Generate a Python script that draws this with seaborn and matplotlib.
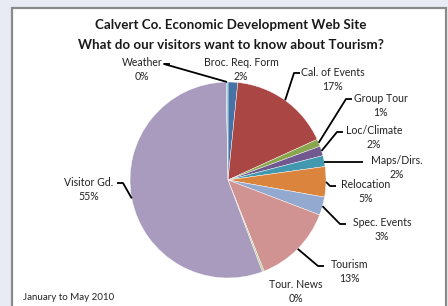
import numpy as np
import matplotlib
matplotlib.use("Agg")
import matplotlib.pyplot as plt
import seaborn as sns
from matplotlib.patches import Rectangle

sns.set_theme(style="white")
plt.rcParams['font.family'] = ['Lato', 'DejaVu Sans']

# ---- data ----
categories = ["Broc. Req. Form", "Cal. of Events", "Group Tour", "Loc/Climate",
              "Maps/Dirs.", "Relocation", "Spec. Events", "Tourism",
              "Tour. News", "Visitor Gd.", "Weather"]
values = [1.6, 16.6, 1.2, 1.6, 1.8, 5.0, 3.0, 13.2, 0.3, 55.4, 0.3]
colors = ["#4572A7", "#AA4643", "#89A54E", "#71588F", "#4198AF", "#DB843D",
          "#93A9CF", "#D19392", "#B9CD96", "#A99BBD", "#92C5D8"]
title_lines = ["Calvert Co. Economic Development Web Site",
               "What do our visitors want to know about Tourism?"]
footnote = "January to May 2010"

# ---- layout (pixel coordinates, image y downward) ----
W, H = 448, 306
cx, cy, R = 228, 180, 98
label_pos = {
    "Broc. Req. Form": (241, 62),
    "Cal. of Events": (333, 72),
    "Group Tour": (381, 98),
    "Loc/Climate": (374, 131),
    "Maps/Dirs.": (397, 160),
    "Relocation": (366, 184),
    "Spec. Events": (382, 222),
    "Tourism": (350, 264),
    "Tour. News": (296, 285),
    "Visitor Gd.": (89, 182),
    "Weather": (142, 62),
}
leader_anchor = {
    "Cal. of Events": (300, 73),
    "Group Tour": (352, 99),
    "Loc/Climate": (343, 132),
    "Maps/Dirs.": (363, 162),
    "Relocation": (336, 186),
    "Spec. Events": (346, 224),
    "Tourism": (324, 266),
    "Visitor Gd.": (117, 183),
    "Weather": (170, 64),
}

fig = plt.figure(figsize=(W / 100, H / 100), dpi=100)
fig.patch.set_facecolor("#E8EBF3")
ax = fig.add_axes([0, 0, 1, 1])
ax.set_facecolor("none")

def Y(y):
    return H - y

ax.add_patch(Rectangle((12, -5), 434, Y(8) + 5, facecolor="white",
                       edgecolor="#8A8A8A", linewidth=1.6, zorder=0))

wedges, _ = ax.pie(values, colors=colors, startangle=90, counterclock=False,
                   center=(cx, Y(cy)), radius=R,
                   wedgeprops=dict(edgecolor="white", linewidth=0.3),
                   frame=True)
ax.set_xlim(0, W)
ax.set_ylim(0, H)
ax.set_aspect("auto")
ax.axis("off")

ax.text(231, Y(25), title_lines[0], ha="center", va="center",
        fontsize=9.6, fontweight="bold", color="#1a1a1a")
ax.text(231, Y(45), title_lines[1], ha="center", va="center",
        fontsize=9.6, fontweight="bold", color="#1a1a1a")

total = float(sum(values))
cum = np.cumsum([0] + values)
for i, cat in enumerate(categories):
    pct = values[i] / total * 100
    lx, ly = label_pos[cat]
    ax.text(lx, Y(ly), cat, ha="center", va="center", fontsize=7.6, color="#222222")
    ax.text(lx, Y(ly + 14), f"{pct:.0f}%", ha="center", va="center",
            fontsize=7.6, color="#222222")
    if cat in leader_anchor:
        mid = (cum[i] + values[i] / 2) / total * 360
        ang = np.deg2rad(90 - mid)
        ex = cx + R * np.cos(ang)
        ey = Y(cy) + R * np.sin(ang)
        axx, ayy = leader_anchor[cat]
        if cat == "Maps/Dirs.":
            xs, ys = [axx, ex], [Y(ayy), Y(ayy)]
        else:
            hx = axx + 6 if cat == "Visitor Gd." else axx - 6
            xs, ys = [axx, hx, ex], [Y(ayy), Y(ayy), ey]
        ax.plot(xs, ys, color="black", linewidth=1.3,
                solid_capstyle="butt", zorder=3)

ax.text(23, Y(297), footnote, ha="left", va="center", fontsize=7,
        color="#222222")

fig.savefig("out.png", dpi=100, facecolor=fig.get_facecolor())
